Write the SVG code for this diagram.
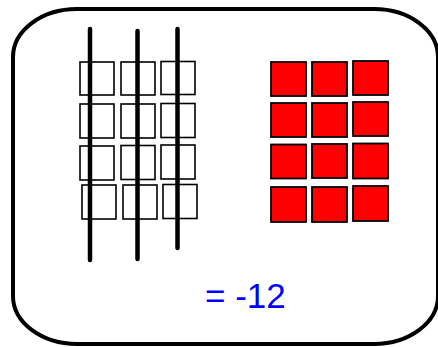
<svg xmlns="http://www.w3.org/2000/svg" width="438" height="347" viewBox="0 0 438 347">
<style>
.frame{fill:#fff;stroke:#000;stroke-width:4}
.tile{fill:none;stroke:#000;stroke-width:1.6}
.red{fill:#ff0000;stroke:#000;stroke-width:1.8}
.bar{stroke:#000;stroke-width:4.5;stroke-linecap:round;fill:none}
.lbl{font-family:"Liberation Sans",Arial,sans-serif;font-size:35px;fill:#0000ff}
</style>
<rect width="438" height="347" fill="#fff"/>
<rect class="frame" x="13" y="9" width="425" height="335" rx="64" ry="48"/>
<g id="positive-tiles">
<rect class="tile" x="80" y="62" width="34" height="33"/>
<rect class="tile" x="121" y="62" width="34" height="33"/>
<rect class="tile" x="161" y="61.5" width="34" height="33"/>
<rect class="tile" x="80" y="104" width="34" height="34"/>
<rect class="tile" x="121" y="104" width="34" height="34"/>
<rect class="tile" x="161" y="103.5" width="34" height="34"/>
<rect class="tile" x="80" y="146" width="34" height="34"/>
<rect class="tile" x="121" y="145.5" width="34" height="34"/>
<rect class="tile" x="161" y="145" width="34" height="34"/>
<rect class="tile" x="82" y="185" width="34" height="34"/>
<rect class="tile" x="123" y="185" width="34" height="34"/>
<rect class="tile" x="163" y="184.5" width="34" height="34"/>
</g>
<g id="crossings">
<line class="bar" x1="90" y1="29" x2="90" y2="260"/>
<line class="bar" x1="137.5" y1="31" x2="137.5" y2="259"/>
<line class="bar" x1="177.5" y1="29" x2="177.5" y2="248"/>
</g>
<g id="negative-tiles">
<rect class="red" x="271" y="62" width="35" height="34"/>
<rect class="red" x="312" y="62" width="35" height="34"/>
<rect class="red" x="353" y="61" width="35" height="34"/>
<rect class="red" x="271" y="103" width="35" height="34"/>
<rect class="red" x="312" y="103" width="35" height="34"/>
<rect class="red" x="353" y="102" width="35" height="34"/>
<rect class="red" x="271" y="144.5" width="35" height="34"/>
<rect class="red" x="312" y="144" width="35" height="34"/>
<rect class="red" x="353" y="143.5" width="35" height="35"/>
<rect class="red" x="271" y="187" width="35" height="35"/>
<rect class="red" x="312" y="187" width="35" height="35"/>
<rect class="red" x="353" y="186" width="35" height="35"/>
</g>
<g id="result">
<text class="lbl" x="205" y="308">= -12</text>
</g>
</svg>
